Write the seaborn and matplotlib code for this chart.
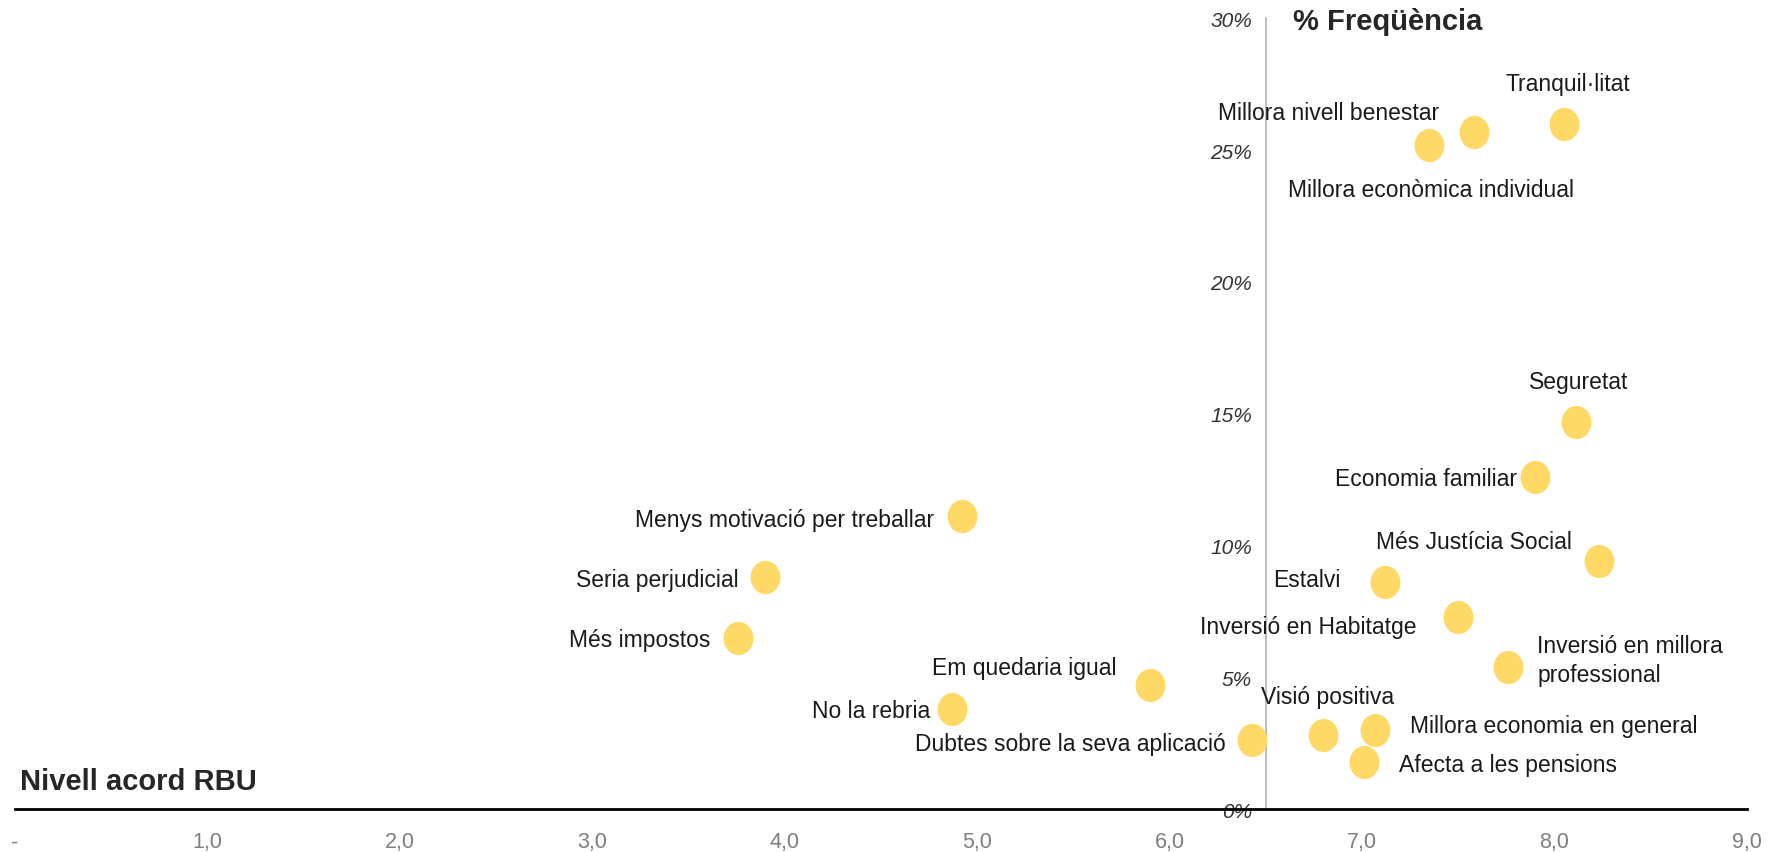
import numpy as np
import pandas as pd
import matplotlib
matplotlib.use("Agg")
import matplotlib.pyplot as plt
from matplotlib.path import Path
import seaborn as sns

# values
labels = [
    "Tranquil·litat", "Millora nivell benestar", "Millora econòmica individual",
    "Seguretat", "Economia familiar", "Més Justícia Social", "Estalvi",
    "Inversió en Habitatge", "Inversió en millora\nprofessional", "Visió positiva",
    "Millora economia en general", "Afecta a les pensions",
    "Dubtes sobre la seva aplicació", "Em quedaria igual", "No la rebria",
    "Més impostos", "Seria perjudicial", "Menys motivació per treballar",
]
acord = [8.05, 7.58, 7.35, 8.11, 7.90, 8.23, 7.12, 7.50, 7.76, 6.80,
         7.07, 7.01, 6.43, 5.90, 4.87, 3.76, 3.90, 4.92]
frequencia = [26.0, 25.7, 25.2, 14.7, 12.6, 9.4, 8.6, 7.3, 5.4, 2.8,
              3.0, 1.8, 2.6, 4.7, 3.8, 6.5, 8.8, 11.1]

x_ticks = [0, 1, 2, 3, 4, 5, 6, 7, 8, 9]
x_ticklabels = ["-", "1,0", "2,0", "3,0", "4,0", "5,0", "6,0", "7,0", "8,0", "9,0"]
y_ticks = [0, 5, 10, 15, 20, 25, 30]
y_ticklabels = ["0%", "5%", "10%", "15%", "20%", "25%", "30%"]

# label placement: (ha, dx, dy) in points from the marker
label_pos = {
    "Tranquil·litat": ("center", 3, 29),
    "Millora nivell benestar": ("right", -25, 14),
    "Millora econòmica individual": ("left", -102, -32),
    "Seguretat": ("center", 2, 29),
    "Economia familiar": ("right", -13, -1),
    "Més Justícia Social": ("right", -19, 14),
    "Estalvi": ("right", -32, 2),
    "Inversió en Habitatge": ("right", -30, -7),
    "Inversió en millora\nprofessional": ("left", 21, 5),
    "Visió positiva": ("center", 3, 28),
    "Millora economia en general": ("left", 25, 3),
    "Afecta a les pensions": ("left", 25, -2),
    "Dubtes sobre la seva aplicació": ("right", -19, -2),
    "Em quedaria igual": ("right", -24, 13),
    "No la rebria": ("right", -16, -1),
    "Més impostos": ("right", -20, -1),
    "Seria perjudicial": ("right", -19, -2),
    "Menys motivació per treballar": ("right", -20, -2),
}

df = pd.DataFrame({"label": labels, "acord": acord, "freq": frequencia})

sns.set_style("white")
plt.rcParams["font.family"] = ["Liberation Sans", "DejaVu Sans"]

fig = plt.figure(figsize=(17.82, 8.53), dpi=100)
ax = fig.add_axes([0.0083, 0.0504, 0.972, 0.927])

# slightly tall oval marker like the original
t = np.linspace(0, 2 * np.pi, 60)
oval = Path(np.column_stack([0.9 * np.cos(t), np.sin(t)]))

sns.scatterplot(data=df, x="acord", y="freq", ax=ax, marker=oval, s=570,
                color="#FFD966", linewidth=0, zorder=3)

for _, row in df.iterrows():
    ha, dx, dy = label_pos[row["label"]]
    ax.annotate(row["label"], (row["acord"], row["freq"]), xytext=(dx, dy),
                textcoords="offset points", ha=ha, va="center",
                fontsize=16.5, color="#1a1a1a", multialignment="left",
                linespacing=1.35)

ax.set_xlim(0, 9)
ax.set_ylim(0, 30)

ax.spines["top"].set_visible(False)
ax.spines["right"].set_visible(False)
ax.spines["left"].set_position(("data", 6.5))
ax.spines["left"].set_color("#b0b0b0")
ax.spines["left"].set_linewidth(1.2)
ax.spines["bottom"].set_color("black")
ax.spines["bottom"].set_linewidth(2)

ax.set_xticks(x_ticks)
ax.set_xticklabels(x_ticklabels, fontsize=15.5, color="#7f7f7f")
ax.set_yticks(y_ticks)
ax.set_yticklabels(y_ticklabels, fontsize=15, color="#333333", style="italic")
ax.tick_params(axis="x", length=0, pad=16)
ax.tick_params(axis="y", length=0, pad=10)
ax.set_xlabel("")
ax.set_ylabel("")

ax.text(0.003, 0.035, "Nivell acord RBU", transform=ax.transAxes,
        fontsize=21, fontweight="bold", ha="left", va="center")
ax.text(6.64, 29.9, "% Freqüència", fontsize=21, fontweight="bold",
        ha="left", va="center")

fig.savefig("out.png", dpi=100)
